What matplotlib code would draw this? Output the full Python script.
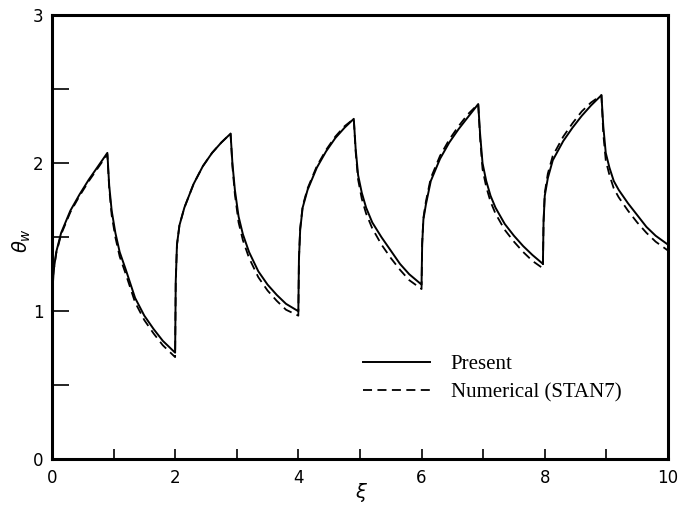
from matplotlib import pyplot as plt
from matplotlib.ticker import MultipleLocator

# xi positions
xi = [0.0, 0.01, 0.03, 0.07, 0.15, 0.3, 0.45, 0.6, 0.75, 0.9,
      0.93, 0.97, 1.03, 1.1, 1.2, 1.35, 1.5, 1.65, 1.8,
      2.0, 2.01, 2.03, 2.07, 2.15, 2.3, 2.45, 2.6, 2.75, 2.9,
      2.93, 2.97, 3.03, 3.1, 3.2, 3.35, 3.5, 3.65, 3.8,
      4.0, 4.01, 4.03, 4.07, 4.15, 4.3, 4.45, 4.6, 4.75, 4.9,
      4.93, 4.97, 5.03, 5.1, 5.2, 5.35, 5.5, 5.65, 5.8,
      6.0, 6.01, 6.03, 6.07, 6.15, 6.3, 6.45, 6.6, 6.75, 6.92,
      6.95, 6.99, 7.05, 7.12, 7.2, 7.35, 7.5, 7.65, 7.8,
      7.97, 7.98, 8.0, 8.05, 8.13, 8.3, 8.45, 8.6, 8.75, 8.92,
      8.95, 8.99, 9.05, 9.12, 9.2, 9.35, 9.5, 9.65, 9.8, 10.0]

present = [1.0, 1.15, 1.28, 1.40, 1.53, 1.68, 1.79, 1.89, 1.98, 2.07,
           1.85, 1.68, 1.53, 1.40, 1.28, 1.09, 0.97, 0.88, 0.80,
           0.72, 1.2, 1.45, 1.58, 1.70, 1.86, 1.98, 2.07, 2.14, 2.2,
           2.0, 1.82, 1.64, 1.52, 1.40, 1.27, 1.18, 1.11, 1.05,
           1.0, 1.35, 1.55, 1.70, 1.82, 1.97, 2.08, 2.17, 2.24, 2.30,
           2.1, 1.92, 1.80, 1.70, 1.60, 1.50, 1.41, 1.32, 1.25,
           1.18, 1.45, 1.62, 1.72, 1.88, 2.03, 2.14, 2.23, 2.31, 2.40,
           2.2, 2.0, 1.88, 1.78, 1.70, 1.59, 1.51, 1.44, 1.38,
           1.32, 1.6, 1.78, 1.90, 2.02, 2.15, 2.24, 2.32, 2.39, 2.46,
           2.25, 2.07, 1.97, 1.88, 1.82, 1.73, 1.65, 1.57, 1.51, 1.45]

numerical = [1.15, 1.2, 1.28, 1.39, 1.52, 1.67, 1.78, 1.88, 1.97, 2.06,
             1.83, 1.65, 1.50, 1.37, 1.25, 1.06, 0.94, 0.85, 0.77,
             0.69, 1.2, 1.45, 1.58, 1.70, 1.86, 1.98, 2.07, 2.14, 2.2,
             1.98, 1.79, 1.60, 1.48, 1.36, 1.23, 1.14, 1.07, 1.01,
             0.97, 1.36, 1.56, 1.71, 1.83, 1.98, 2.09, 2.18, 2.25, 2.30,
             2.08, 1.89, 1.76, 1.66, 1.56, 1.45, 1.36, 1.28, 1.21,
             1.15, 1.46, 1.63, 1.74, 1.90, 2.05, 2.16, 2.25, 2.33, 2.40,
             2.17, 1.96, 1.84, 1.74, 1.66, 1.55, 1.47, 1.40, 1.34,
             1.29, 1.6, 1.80, 1.93, 2.05, 2.18, 2.27, 2.35, 2.41, 2.46,
             2.2, 2.02, 1.92, 1.83, 1.77, 1.68, 1.60, 1.53, 1.47, 1.41]

fig = plt.figure(figsize=(6.83, 5.08), dpi=100)
ax = fig.add_axes([0.076, 0.096, 0.902, 0.874])

ax.plot(xi, present, color='black', lw=1.4, label='Present')
ax.plot(xi, numerical, color='black', lw=1.3, linestyle=(0, (5, 3)),
        label='Numerical (STAN7)')

ax.set_xlim(0, 10)
ax.set_ylim(0, 3)
ax.xaxis.set_major_locator(MultipleLocator(2))
ax.xaxis.set_minor_locator(MultipleLocator(1))
ax.yaxis.set_major_locator(MultipleLocator(1))
ax.yaxis.set_minor_locator(MultipleLocator(0.5))
ax.tick_params(axis='x', which='both', direction='in', length=7, width=1.2,
               top=False, labelsize=12, pad=7)
ax.tick_params(axis='y', which='both', direction='in', length=12, width=1.2,
               right=False, labelsize=12, pad=6)
for s in ax.spines.values():
    s.set_linewidth(2.2)

# axis labels placed in figure pixels like the original scan
fig.text(362 / 683, 1 - 492 / 508, r'$\xi$', fontsize=14,
         ha='center', va='center')
fig.text(22 / 683, 1 - 240 / 508, r'$\theta_w$', fontsize=14,
         ha='center', va='center', rotation=90)

ax.legend(loc='upper left', bbox_to_anchor=(0.505, 0.235), frameon=False,
          prop={'family': 'Liberation Serif', 'size': 15},
          handlelength=3.2, handletextpad=1.0, labelspacing=0.4,
          borderpad=0, borderaxespad=0)

fig.savefig('out.png', dpi=100)
